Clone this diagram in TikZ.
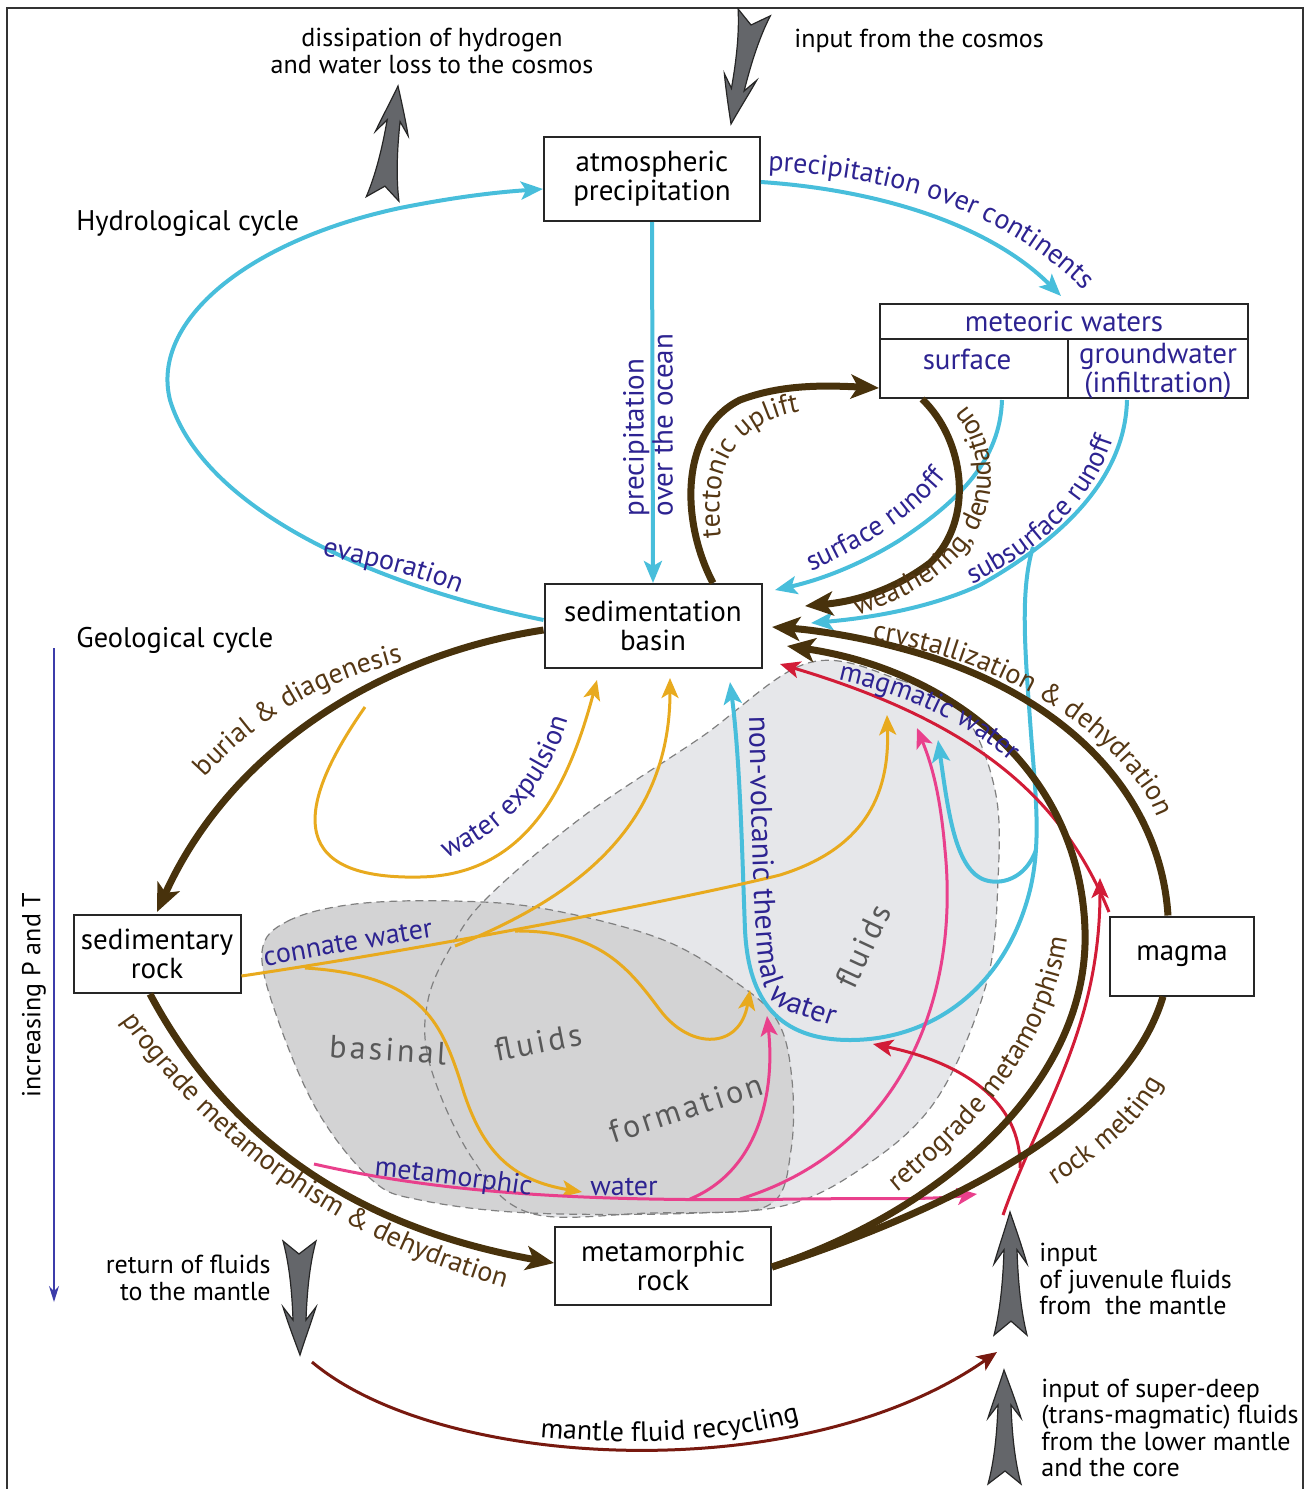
\documentclass[tikz,border=0pt]{standalone}
\usepackage{fontspec}
\setmainfont{PT Sans}
\newfontfamily\spacedfont[LetterSpace=10]{PT Sans}
\usetikzlibrary{arrows.meta,decorations.text}
\definecolor{cyanc}{RGB}{72,190,219}
\definecolor{brownc}{RGB}{72,50,12}
\definecolor{tbrown}{RGB}{85,55,20}
\definecolor{tblue}{RGB}{45,35,145}
\definecolor{orangec}{RGB}{232,170,30}
\definecolor{pinkc}{RGB}{233,64,140}
\definecolor{redc}{RGB}{210,28,55}
\definecolor{dredc}{RGB}{120,25,15}
\definecolor{lgrayc}{RGB}{230,231,234}
\definecolor{dgrayc}{RGB}{211,211,212}
\definecolor{gtextc}{RGB}{88,88,88}
\definecolor{agrayc}{RGB}{100,102,106}
\definecolor{pbluec}{RGB}{60,60,170}
\newcommand\fl{\fontsize{14}{15}\selectfont}
\newcommand\flb{\fontsize{15}{16}\selectfont}
\newcommand\ff{\fontsize{13}{13.3}\selectfont}
\newcommand\fb{\fontsize{14.5}{14.5}\selectfont}
\newcommand\fh{\fontsize{14.2}{15}\selectfont}
\newcommand\fg{\spacedfont\fontsize{16}{18}\selectfont}
\begin{document}
\begin{tikzpicture}[x=0.5pt,y=-0.5pt,
  box/.style={draw=black!85, line width=1pt, fill=white, align=center, inner sep=0pt, font=\fb},
  txt/.style={font=\ff, inner sep=0pt},
  cy/.style={draw=cyanc, line width=2pt, -{Stealth[length=11pt,width=9pt,inset=2.5pt]}},
  br/.style={draw=brownc, line width=3.5pt, -{Stealth[length=14pt,width=12pt,inset=3.5pt]}},
  thinarr/.style={line width=1.5pt, -{Stealth[length=10pt,width=8.5pt,inset=2.5pt]}},
  tp/.style 2 args={decorate, decoration={text along path, text={|\fl|#2}, text align=left, text color=#1}},
  tpb/.style 2 args={decorate, decoration={text along path, text={|\flb|#2}, text align=left, text color=#1}},
  gtx/.style={font=\fg, text=gtextc, inner sep=0pt},
  regionline/.style={draw=black!50, line width=0.6pt, dash pattern=on 4pt off 2.5pt},
  fatarrow/.pic={\filldraw[fill=agrayc, draw=black!85, line width=0.6pt]
     (0,0) .. controls (6,16) and (12,32) .. (17,48) -- (7,35) .. controls (8,65) and (11,92) .. (17,114) -- (1,101) -- (-16,114)
     .. controls (-10,92) and (-7,65) .. (-6,35) -- (-16,48) .. controls (-11,32) and (-5,16) .. cycle;}
]
\useasboundingbox (0,0) rectangle (1310,1489);

% frame
\draw[black!80, line width=1.2pt] (7,1500) -- (7,8) -- (1303,8) -- (1303,1500);

% fluid regions
\fill[lgrayc] plot[smooth cycle, tension=0.6] coordinates {(808,663) (900,680) (962,712) (995,790) (998,880) (986,985) (936,1100) (862,1168) (778,1207) (650,1213) (530,1213) (472,1158) (430,1065) (428,1000) (455,940) (492,893) (585,815) (700,738)};
\fill[dgrayc] plot[smooth cycle, tension=0.6] coordinates {(262,952) (288,921) (355,904) (454,901) (546,909) (661,939) (737,983) (778,1022) (792,1080) (791,1150) (772,1203) (700,1213) (530,1213) (420,1200) (372,1180) (318,1112) (278,1020)};
\path[regionline] plot[smooth cycle, tension=0.6] coordinates {(808,663) (900,680) (962,712) (995,790) (998,880) (986,985) (936,1100) (862,1168) (778,1207) (650,1213) (530,1213) (472,1158) (430,1065) (428,1000) (455,940) (492,893) (585,815) (700,738)};
\path[regionline] plot[smooth cycle, tension=0.6] coordinates {(262,952) (288,921) (355,904) (454,901) (546,909) (661,939) (737,983) (778,1022) (792,1080) (791,1150) (772,1203) (700,1213) (530,1213) (420,1200) (372,1180) (318,1112) (278,1020)};

\node[gtx, rotate=-3.5] (tbas) at (388,1050) {basinal};
\node[gtx, rotate=11] (tflu1) at (538,1042) {fluids};
\node[gtx, rotate=18] (tform) at (686,1108) {formation};
\node[gtx, rotate=65] (tflu2) at (863,946) {fluids};

% boxes
\node[box, minimum width=108pt, minimum height=42pt] (atm) at (652,179) {atmospheric\\precipitation};
\node[box, minimum width=108.5pt, minimum height=42pt] (basin) at (653,626) {sedimentation\\basin};
\node[box, minimum width=83.5pt, minimum height=39pt] (sedr) at (157,954) {sedimentary\\rock};
\node[box, minimum width=72pt, minimum height=39.5pt] (magma) at (1182,956) {magma};
\node[box, minimum width=108pt, minimum height=39pt] (meta) at (663,1266) {metamorphic\\rock};
\node[draw=black!85, line width=1pt, minimum width=184pt, minimum height=47pt, inner sep=0pt] (met) at (1064,351) {};
\draw[black!85, line width=1pt] (880,339) -- (1248,339) (1068,339) -- (1068,398);
\node[inner sep=0pt, font=\fb, text=tblue] (metT) at (1064,321) {meteoric waters};
\node[inner sep=0pt, font=\fb, text=tblue] (surf) at (967,359) {surface};
\node[inner sep=0pt, font=\fb, text=tblue, align=center] (gw) at (1158,371) {groundwater\\(infiltration)};

% free texts
\node[txt, align=center] (diss) at (432,51) {dissipation of hydrogen\\and water loss to the cosmos};
\node[txt, anchor=west] (cosmos) at (794,41) {input from the cosmos};
\node[txt, anchor=west, font=\fh] (hydro) at (76,223) {Hydrological cycle};
\node[txt, anchor=west, font=\fh] (geo) at (76,640) {Geological cycle};
\node[txt, rotate=90] (ipt) at (34,995) {increasing P and T};
\node[txt, align=right, anchor=east] (ret) at (271,1278) {return of fluids\\to the mantle};
\node[txt, align=left, anchor=west] (juv) at (1039,1279) {input\\of juvenule fluids\\from\ \ the mantle};
\node[txt, align=left, anchor=west] (deep) at (1041,1428) {input of super-deep\\(trans-magmatic) fluids\\from the lower mantle\\and the core};

% gray fat arrows
\pic[rotate=-8] at (398,86) {fatarrow};
\pic[rotate=168] at (731,124) {fatarrow};
\pic[rotate=180] at (300,1355) {fatarrow};
\pic[yscale=1.08] at (1010,1212) {fatarrow};
\pic at (1004,1370) {fatarrow};

% increasing P and T arrow
\coordinate (ipA) at (54,648);
\coordinate (ipB) at (54,1302);
\draw[pbluec, line width=0.7pt, -{Stealth[length=8pt,width=5pt]}] (ipA) -- (ipB);

% coordinates
\coordinate (surfB) at (1002,400);
\coordinate (gwB) at (1127,400);
\coordinate (subBr) at (1033,547);
\coordinate (nvBr) at (1036,850);
\coordinate (wexS) at (365,707);
\coordinate (conA) at (455,946);
\coordinate (conB) at (305,968);
\coordinate (conC) at (515,931);
\coordinate (pkS) at (314,1164);
\coordinate (pkA) at (690,1199);
\coordinate (pkB) at (740,1199);
\coordinate (pkE) at (977,1194);
\coordinate (rdS) at (1003,1215);
\coordinate (rdBr) at (1020,1168);
\coordinate (mfS) at (312,1362);
\coordinate (mfE) at (997,1352);

% ---- cyan (hydrological) ----
\draw[cy] (basin.west |- 0,620) .. controls (350,580) and (200,500) .. (170,400) .. controls (150,320) and (250,240) .. (400,208) .. controls (460,196) and (500,192) .. (atm.west |- 0,189);
\draw[cy] (atm.south) -- (basin.north);
\draw[cy] (atm.east |- 0,182) .. controls (880,190) and (990,225) .. (1061,296);
\draw[cy] (surfB) .. controls (1000,460) and (960,500) .. (900,540) .. controls (860,565) and (820,580) .. (775,590);
\draw[cy] (gwB) .. controls (1125,480) and (1060,540) .. (980,585) .. controls (930,608) and (870,618) .. (811,623);
\draw[cy] (subBr) .. controls (1020,590) and (1025,650) .. (1030,720) .. controls (1035,790) and (1042,840) .. (1030,890) .. controls (1005,990) and (930,1040) .. (850,1040) .. controls (770,1040) and (748,990) .. (745,930) .. controls (742,850) and (740,760) .. (730,682);
\draw[cy] (nvBr) .. controls (1025,880) and (1000,885) .. (985,880) .. controls (955,870) and (948,810) .. (938,740);

% ---- orange ----
\draw[thinarr, orangec] (wexS) .. controls (300,800) and (280,880) .. (420,877) .. controls (530,875) and (570,780) .. (597,680);
\draw[thinarr, orangec] (sedr.east |- 0,976) .. controls (450,945) and (700,895) .. (780,875) .. controls (860,850) and (890,800) .. (887,715);
\draw[thinarr, orangec] (conA) .. controls (570,900) and (670,830) .. (670,678);
\draw[thinarr, orangec] (conB) .. controls (420,975) and (440,1020) .. (460,1080) .. controls (480,1150) and (510,1180) .. (582,1192);
\draw[thinarr, orangec] (conC) .. controls (600,930) and (630,970) .. (660,1010) .. controls (690,1050) and (740,1050) .. (750,990);

% ---- pink ----
\draw[thinarr, pinkc] (pkS) .. controls (450,1195) and (600,1202) .. (800,1199) .. controls (880,1198) and (930,1200) .. (pkE);
\draw[thinarr, pinkc] (pkA) .. controls (760,1170) and (775,1090) .. (767,1016);
\draw[thinarr, pinkc] (pkB) .. controls (900,1150) and (960,1000) .. (945,850) .. controls (940,790) and (930,760) .. (917,728);

% ---- red ----
\draw[thinarr, redc] (magma.north west |- 0,912) .. controls (1065,805) and (985,725) .. (780,664);
\draw[thinarr, redc] (rdS) .. controls (1040,1110) and (1100,1030) .. (1100,878);
\draw[thinarr, redc] (rdBr) .. controls (1022,1100) and (960,1062) .. (873,1044);
\draw[thinarr, dredc] (mfS) .. controls (440,1470) and (800,1490) .. (mfE);

% ---- brown (geological) ----
\draw[br] (basin.west |- 0,630) .. controls (380,655) and (230,750) .. (sedr.north |- 0,912);
\draw[br] (basin.north -| 713,0) .. controls (680,520) and (680,430) .. (740,400) .. controls (780,385) and (820,385) .. (met.west |- 0,388);
\draw[br] (met.south -| 922,0) .. controls (965,440) and (975,520) .. (930,563) .. controls (890,593) and (850,602) .. (805,606);
\draw[br] (magma.north -| 1168,0) .. controls (1160,790) and (1060,690) .. (900,648) .. controls (860,637) and (815,630) .. (772,627);
\draw[br] (meta.east |- 0,1267) .. controls (930,1215) and (1090,1090) .. (1085,930) .. controls (1080,770) and (950,670) .. (787,646);
\draw[br, -] (meta.east |- 0,1267) .. controls (900,1225) and (1120,1140) .. (magma.south -| 1163,0);
\draw[br] (sedr.south -| 150,0) .. controls (220,1125) and (340,1225) .. (meta.west |- 0,1263);

% ---- labels along paths ----
\path[tp={tblue}{precipitation over continents}] (768,171) .. controls (900,176) and (1010,215) .. (1085,292) -- (1115,330);
\node[inner sep=0pt, text=tblue, rotate=90, align=left, font=\fb] (pocean) at (648,425) {precipitation\\over the ocean};
\path[tp={tbrown}{tectonic uplift}] (721,537) .. controls (714,470) and (730,440) .. (770,420) .. controls (790,412) and (810,409) .. (850,406) -- (880,404);
\path[tp={tbrown}{weathering, denudation}] (857,615) .. controls (936,590) and (990,546) .. (991,478) .. controls (991,440) and (978,413) .. (950,390) -- (934,376);
\path[tp={tblue}{surface runoff}] (811,571) .. controls (870,546) and (925,510) .. (955,465) -- (975,430);
\path[tp={tblue}{subsurface runoff}] (972,584) .. controls (1045,550) and (1103,493) .. (1118,420) -- (1123,380);
\path[tp={tblue}{evaporation}] (322,556) .. controls (380,567) and (430,580) .. (470,598) -- (500,612);
\path[tp={tbrown}{burial {\&} diagenesis}] (205,778) .. controls (262,715) and (322,682) .. (405,661) -- (440,652);
\path[tp={tbrown}{crystallization {\&} dehydration}] (872,640) .. controls (990,657) and (1100,720) .. (1150,800) -- (1180,870);
\path[tp={tblue}{magmatic water}] (838,680) .. controls (915,697) and (975,727) .. (1020,770) -- (1045,797);
\path[tp={tblue}{water expulsion}] (446,858) .. controls (500,835) and (550,790) .. (570,712) -- (575,690);
\path[tp={tblue}{connate water}] (265,966) .. controls (330,955) and (380,945) .. (440,936) -- (470,932);
\path[tpb={tblue}{non-volcanic thermal water}] (749,716) .. controls (752,840) and (754,940) .. (760,970) .. controls (764,992) and (772,1003) .. (785,1010) -- (850,1032) -- (880,1040);
\path[tp={tblue}{metamorphic}] (374,1176) .. controls (430,1181) and (480,1188) .. (545,1198);
\node[inner sep=0pt, font=\fl, text=tblue] (twater) at (624,1187) {water};
\path[tp={tbrown}{retrograde metamorphism}] (897,1192) .. controls (985,1120) and (1055,1040) .. (1068,930) -- (1071,890);
\path[tp={tbrown}{rock melting}] (1055,1185) .. controls (1110,1150) and (1160,1110) .. (1175,1050) -- (1180,1020);
\path[tp={tbrown}{prograde metamorphism {\&} dehydration}] (122,1020) .. controls (205,1140) and (335,1240) .. (512,1290) -- (545,1297);
\path[tp={black}{mantle fluid recycling}] (540,1437) .. controls (640,1446) and (720,1442) .. (800,1421) -- (830,1410);
\end{tikzpicture}
\end{document}
